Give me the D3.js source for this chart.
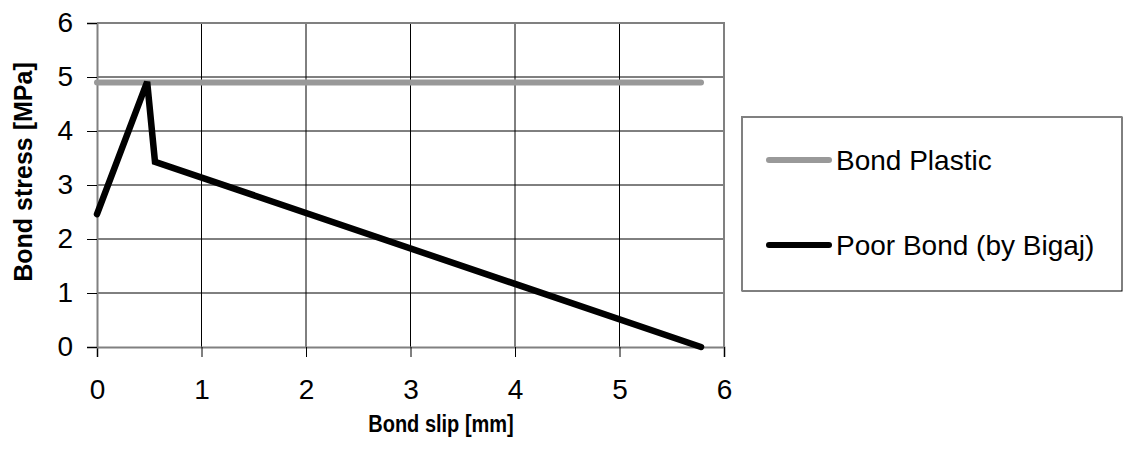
<!DOCTYPE html>
<html>
<head>
<meta charset="utf-8">
<script src="https://cdn.jsdelivr.net/npm/d3@7"></script>
<style>
  html, body { margin: 0; padding: 0; background: #fff; }
  svg { display: block; font-family: "Liberation Sans", Arial, sans-serif; }
</style>
</head>
<body>
<div id="chart"></div>
<script>
// Bond stress vs bond slip — two series, Excel-like styling
const xTicks = [0, 1, 2, 3, 4, 5, 6]
const yTicks = [0, 1, 2, 3, 4, 5, 6]

const plasticSlip = [0, 5.78]
const plasticStress = [4.9, 4.9]

const poorSlip = [0, 0.48, 0.555, 5.78]
const poorStress = [2.46, 4.91, 3.43, 0]

const seriesNames = ["Bond Plastic", "Poor Bond (by Bigaj)"]
const seriesColors = ["#999999", "#000000"]

const W = 1123, H = 461
const plot = { left: 97, right: 724, top: 23, bottom: 347 }

const svg = d3.select("#chart").append("svg")
  .attr("width", W).attr("height", H)
  .attr("viewBox", `0 0 ${W} ${H}`)

const x = d3.scaleLinear().domain([0, 6]).range([plot.left, plot.right])
const y = d3.scaleLinear().domain([0, 6]).range([plot.bottom, plot.top])

// gridlines
svg.append("g")
  .selectAll("line.gx")
  .data(xTicks.filter((d) => d > 0 && d < 6))
  .join("line")
  .attr("x1", (d) => x(d)).attr("x2", (d) => x(d))
  .attr("y1", plot.top).attr("y2", plot.bottom)
  .attr("stroke", "#000").attr("stroke-width", 1)

svg.append("g")
  .selectAll("line.gy")
  .data(yTicks.filter((d) => d > 0 && d < 6))
  .join("line")
  .attr("x1", plot.left).attr("x2", plot.right)
  .attr("y1", (d) => y(d)).attr("y2", (d) => y(d))
  .attr("stroke", "#000").attr("stroke-width", 1)

// plot border (top / right)
svg.append("path")
  .attr("d", `M${plot.left},${plot.top}H${plot.right}V${plot.bottom}`)
  .attr("fill", "none").attr("stroke", "#808080").attr("stroke-width", 2)

// axes
const xAxis = svg.append("g")
  .attr("transform", `translate(0,${plot.bottom})`)
  .call(d3.axisBottom(x).tickValues(xTicks).tickSize(10).tickPadding(22).tickFormat(d3.format("d")))
xAxis.select(".domain").attr("stroke", "#808080").attr("stroke-width", 2)
xAxis.selectAll(".tick line").attr("stroke", "#000")
xAxis.selectAll(".tick text").attr("font-size", 28).attr("fill", "#000")
  .attr("font-family", "Liberation Sans, Arial, sans-serif")

const yAxis = svg.append("g")
  .attr("transform", `translate(${plot.left},0)`)
  .call(d3.axisLeft(y).tickValues(yTicks).tickSize(10).tickPadding(14).tickFormat(d3.format("d")))
yAxis.select(".domain").attr("stroke", "#808080").attr("stroke-width", 2)
yAxis.selectAll(".tick line").attr("stroke", "#000")
yAxis.selectAll(".tick text").attr("font-size", 28).attr("fill", "#000")
  .attr("font-family", "Liberation Sans, Arial, sans-serif")

// series
const line = d3.line().x((d) => x(d[0])).y((d) => y(d[1]))

svg.append("path")
  .datum(d3.zip(plasticSlip, plasticStress))
  .attr("d", line)
  .attr("fill", "none").attr("stroke", seriesColors[0])
  .attr("stroke-width", 6).attr("stroke-linecap", "round")

svg.append("path")
  .datum(d3.zip(poorSlip, poorStress))
  .attr("d", line)
  .attr("fill", "none").attr("stroke", seriesColors[1])
  .attr("stroke-width", 6.5).attr("stroke-linejoin", "miter").attr("stroke-linecap", "round")

// axis titles
svg.append("text")
  .attr("transform", "translate(441,432) scale(1,1.15)")
  .attr("text-anchor", "middle")
  .attr("font-size", 20).attr("font-weight", "bold")
  .text("Bond slip [mm]")

svg.append("text")
  .attr("transform", "translate(32,172) rotate(-90)")
  .attr("text-anchor", "middle")
  .attr("font-size", 25).attr("font-weight", "bold")
  .text("Bond stress [MPa]")

// legend
const lg = svg.append("g")
lg.append("rect")
  .attr("x", 742).attr("y", 117).attr("width", 380).attr("height", 174)
  .attr("fill", "#fff").attr("stroke", "#000").attr("stroke-width", 1)
lg.append("path")
  .attr("d", "M742,291V117H1122")
  .attr("fill", "none").attr("stroke", "#808080").attr("stroke-width", 2)

const legendY = [160, 245]
seriesNames.forEach((name, i) => {
  lg.append("line")
    .attr("x1", 769).attr("x2", 829)
    .attr("y1", legendY[i]).attr("y2", legendY[i])
    .attr("stroke", seriesColors[i]).attr("stroke-width", 6)
    .attr("stroke-linecap", "round")
  lg.append("text")
    .attr("x", 836).attr("y", legendY[i])
    .attr("dy", "0.35em")
    .attr("font-size", 28)
    .text(name)
})
</script>
</body>
</html>
